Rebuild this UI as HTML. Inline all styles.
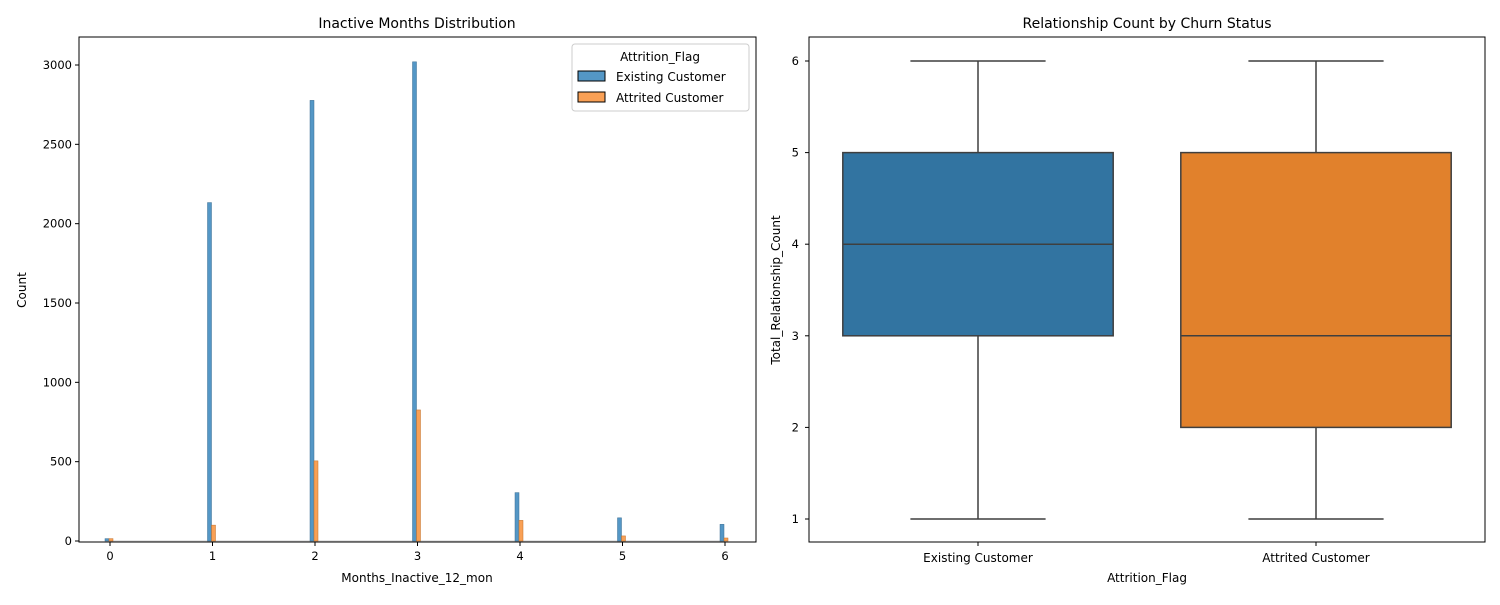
<!DOCTYPE html>
<html><head><meta charset="utf-8"><style>
body{margin:0;background:#fff;font-family:"Liberation Sans","DejaVu Sans",sans-serif}
svg text{font-family:"DejaVu Sans","Liberation Sans",sans-serif;fill:#000}
</style></head><body>
<svg id="c" width="1500" height="600" xmlns="http://www.w3.org/2000/svg"></svg>
<script>
const months=[0,1,2,3,4,5,6];
const existingCounts=[15,2133,2777,3020,305,146,105];
const attritedCounts=[15,100,505,826,130,32,19];
const histYTicks=[0,500,1000,1500,2000,2500,3000];
const boxCats=["Existing Customer","Attrited Customer"];
const boxMin=[1,1];
const boxQ1=[3,2];
const boxMed=[4,3];
const boxQ3=[5,5];
const boxMax=[6,6];
const boxYTicks=[1,2,3,4,5,6];

const svg=document.getElementById('c');const NS='http://www.w3.org/2000/svg';
function el(t,a,txt){const e=document.createElementNS(NS,t);for(const k in a)e.setAttribute(k,a[k]);if(txt!==undefined)e.textContent=txt;svg.appendChild(e);return e;}
const L={x0:79,x1:756,y0:37,y1:542};
const hx=v=>110+v*102.5, hy=v=>541-v*476/3000;
let e;
e=el('line',{x1:hx(0),x2:hx(6),y1:hy(0),y2:hy(0),stroke:'#ccc','stroke-width':1});

months.forEach((m,i)=>{
 e=el('rect',{x:hx(m)-5,y:hy(existingCounts[i]),width:4,height:hy(0)-hy(existingCounts[i]),fill:'#5497c6',stroke:'#3a6e92','stroke-width':0.5});
 
 e=el('rect',{x:hx(m)-1,y:hy(attritedCounts[i]),width:4,height:hy(0)-hy(attritedCounts[i]),fill:'#f9a055',stroke:'#c0702a','stroke-width':0.5});
 
});
e=el('rect',{x:L.x0,y:L.y0,width:L.x1-L.x0,height:L.y1-L.y0,fill:'none',stroke:'#000','stroke-width':1});

histYTicks.forEach(t=>{el('line',{x1:L.x0-4,x2:L.x0,y1:hy(t),y2:hy(t),stroke:'#000'});
 e=el('text',{x:L.x0-7,y:hy(t)+4,'text-anchor':'end','font-size':11.5},t);});
months.forEach(m=>{el('line',{x1:hx(m),x2:hx(m),y1:L.y1,y2:L.y1+4,stroke:'#000'});
 e=el('text',{x:hx(m),y:L.y1+18,'text-anchor':'middle','font-size':11.5},m);});
e=el('text',{x:417,y:28,'text-anchor':'middle','font-size':14},'Inactive Months Distribution');
e=el('text',{x:417,y:582,'text-anchor':'middle','font-size':12},'Months_Inactive_12_mon');
e=el('text',{x:26,y:290,'text-anchor':'middle','font-size':12,transform:'rotate(-90 26 290)'},'Count');
e=el('rect',{x:572,y:44,width:177,height:67,rx:3,fill:'#fff',stroke:'#ccc'});
el('text',{x:660,y:61,'text-anchor':'middle','font-size':12},'Attrition_Flag');
el('rect',{x:578,y:71,width:27,height:10,fill:'#5497c6',stroke:'#000'});
e=el('text',{x:616,y:81,'font-size':12},'Existing Customer');
el('rect',{x:578,y:92,width:27,height:10,fill:'#f9a055',stroke:'#000'});
e=el('text',{x:616,y:102,'font-size':12},'Attrited Customer');
const R={x0:809,x1:1485,y0:37,y1:542};
const by=v=>519-(v-1)*91.6;
const bw=(R.x1-R.x0)/boxCats.length;
const bx=i=>R.x0+bw*(i+0.5);
const fills=['#3274a1','#e1812c'];
boxCats.forEach((c,i)=>{
 const cx=bx(i),hw=bw*0.4,cw=bw*0.2;
 el('line',{x1:cx,x2:cx,y1:by(boxMax[i]),y2:by(boxQ3[i]),stroke:'#3f3f3f','stroke-width':1.5});
 el('line',{x1:cx,x2:cx,y1:by(boxQ1[i]),y2:by(boxMin[i]),stroke:'#3f3f3f','stroke-width':1.5});
 el('line',{x1:cx-cw,x2:cx+cw,y1:by(boxMax[i]),y2:by(boxMax[i]),stroke:'#3f3f3f','stroke-width':1.5});
 el('line',{x1:cx-cw,x2:cx+cw,y1:by(boxMin[i]),y2:by(boxMin[i]),stroke:'#3f3f3f','stroke-width':1.5});
 e=el('rect',{x:cx-hw,y:by(boxQ3[i]),width:2*hw,height:by(boxQ1[i])-by(boxQ3[i]),fill:fills[i],stroke:'#3f3f3f','stroke-width':1.5});
 
 el('line',{x1:cx-hw,x2:cx+hw,y1:by(boxMed[i]),y2:by(boxMed[i]),stroke:'#3f3f3f','stroke-width':1.5});
 el('line',{x1:cx,x2:cx,y1:R.y1,y2:R.y1+4,stroke:'#000'});
 e=el('text',{x:cx,y:R.y1+20,'text-anchor':'middle','font-size':12},c);
});
e=el('rect',{x:R.x0,y:R.y0,width:R.x1-R.x0,height:R.y1-R.y0,fill:'none',stroke:'#000'});
boxYTicks.forEach(t=>{el('line',{x1:R.x0-4,x2:R.x0,y1:by(t),y2:by(t),stroke:'#000'});
 e=el('text',{x:R.x0-10,y:by(t)+4,'text-anchor':'end','font-size':11.5},t);});
e=el('text',{x:1147,y:28,'text-anchor':'middle','font-size':14},'Relationship Count by Churn Status');
e=el('text',{x:1147,y:582,'text-anchor':'middle','font-size':12},'Attrition_Flag');
e=el('text',{x:780,y:290,'text-anchor':'middle','font-size':12,transform:'rotate(-90 780 290)'},'Total_Relationship_Count');

</script>
</body></html>
